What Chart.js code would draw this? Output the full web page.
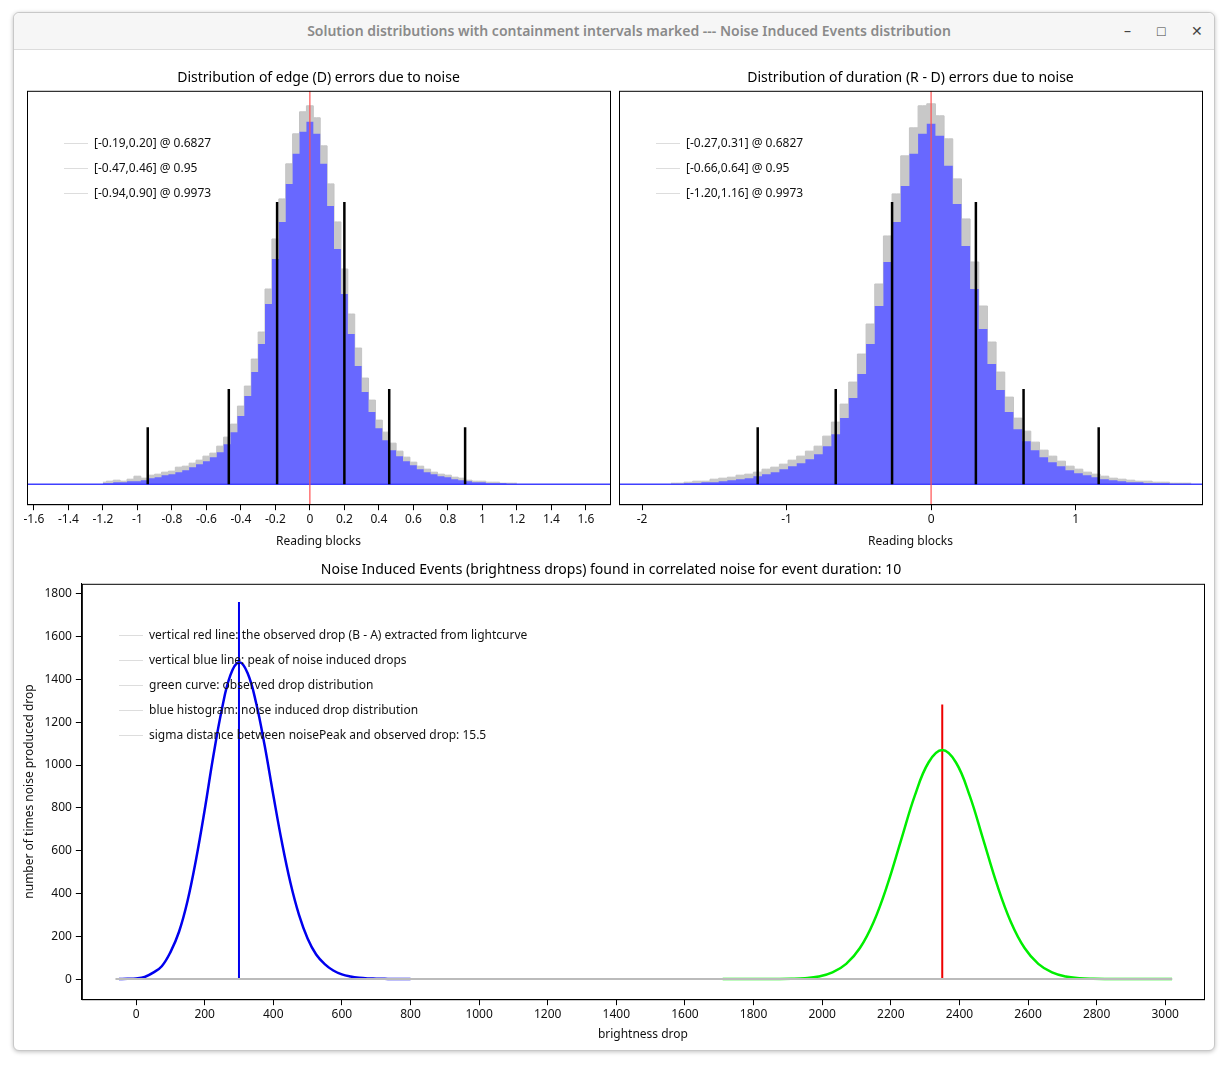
<!DOCTYPE html>
<html>
<head>
<meta charset="utf-8">
<script src="https://cdn.jsdelivr.net/npm/chart.js@4"></script>
<style>
  body { margin:0; background:#ffffff; font-family:"Noto Sans", sans-serif; }
  #win { position:absolute; left:13px; top:12px; width:1200px; height:1037px; background:#fff;
         border:1px solid #c8c8c8; border-radius:6px; box-shadow:0 1px 4px rgba(0,0,0,0.25); }
  #bar { position:absolute; left:0; top:0; width:1200px; height:36px; background:#f6f6f6;
         border-bottom:1px solid #dcdcdc; border-radius:6px 6px 0 0; }
  #bar .t { position:absolute; left:0; width:1230px; top:8px; text-align:center; font-size:14px; color:#8a8a8a; font-weight:600; }
  #bar .b { position:absolute; top:8px; font-size:14px; color:#444; }
  .box { position:absolute; }
  .leg { position:absolute; font-size:12px; color:#111; line-height:25px; }
  .leg span.l { display:inline-block; width:24px; height:1px; background:#ddd; vertical-align:middle; margin-right:6px; }
</style>
</head>
<body>
<div id="win">
  <div id="bar"><div class="t">Solution distributions with containment intervals marked --- Noise Induced Events distribution</div>
    <div class="b" style="left:1110px">&#8211;</div><div class="b" style="left:1143px">&#9633;</div><div class="b" style="left:1177px">&#10005;</div></div>
</div>
<div class="box" style="left:14px;top:60px;width:602px;height:493px"><canvas id="c1"></canvas></div>
<div class="box" style="left:606px;top:60px;width:602px;height:493px"><canvas id="c2"></canvas></div>
<div class="box" style="left:14px;top:552px;width:1194px;height:494px"><canvas id="c3"></canvas></div>
<div class="leg" id="leg1" style="left:64px;top:130px"></div>
<div class="leg" id="leg2" style="left:656px;top:130px"></div>
<div class="leg" id="leg3" style="left:119px;top:622px"></div>
<script>
// ---- top-left: edge (D) errors ----
const edgeX = [-1.20,-1.16,-1.12,-1.08,-1.04,-1.00,-0.96,-0.92,-0.88,-0.84,-0.80,-0.76,-0.72,-0.68,-0.64,-0.60,-0.56,-0.52,-0.48,-0.44,-0.40,-0.36,-0.32,-0.28,-0.24,-0.20,-0.16,-0.12,-0.08,-0.04,0.00,0.04,0.08,0.12,0.16,0.20,0.24,0.28,0.32,0.36,0.40,0.44,0.48,0.52,0.56,0.60,0.64,0.68,0.72,0.76,0.80,0.84,0.88,0.92,0.96,1.00,1.04,1.08,1.12,1.16,1.20];
const edgeBlue = [1,1,2,2,3,3,4,6,7,9,10,12,14,17,20,23,27,32,40,52,68,88,112,140,180,225,262,300,330,352,362,350,320,278,235,190,150,118,92,72,56,44,34,28,23,19,15,12,10,8,7,5,4,3,2,2,1,1,1,0,0];
const edgeGray = [2,3,4,3,5,8,6,9,10,12,13,17,18,21,24,28,31,38,47,60,78,98,125,152,195,245,285,320,350,372,378,366,338,300,262,215,170,136,106,84,64,52,41,33,27,22,18,15,12,10,9,7,6,4,3,3,2,2,1,1,1];
const edgeMarks = [-0.94,-0.47,-0.19,0.20,0.46,0.90];
const edgeTicks = [-1.6,-1.4,-1.2,-1,-0.8,-0.6,-0.4,-0.2,0,0.2,0.4,0.6,0.8,1,1.2,1.4,1.6];
const edgeLegend = ['[-0.19,0.20] @ 0.6827','[-0.47,0.46] @ 0.95','[-0.94,0.90] @ 0.9973'];

// ---- top-right: duration (R - D) errors ----
const durX = [-1.80,-1.74,-1.68,-1.62,-1.56,-1.50,-1.44,-1.38,-1.32,-1.26,-1.20,-1.14,-1.08,-1.02,-0.96,-0.90,-0.84,-0.78,-0.72,-0.66,-0.60,-0.54,-0.48,-0.42,-0.36,-0.30,-0.24,-0.18,-0.12,-0.06,0.00,0.06,0.12,0.18,0.24,0.30,0.36,0.42,0.48,0.54,0.60,0.66,0.72,0.78,0.84,0.90,0.96,1.02,1.08,1.14,1.20,1.26,1.32,1.38,1.44,1.50,1.56,1.62,1.68,1.74,1.80];
const durBlue = [0,0,1,1,2,2,3,4,5,6,8,10,12,15,18,21,25,30,38,50,66,86,110,140,178,222,262,298,330,350,360,348,318,280,238,195,155,120,94,72,55,43,34,27,22,18,14,11,9,7,5,4,3,2,2,1,1,1,0,0,0];
const durGray = [1,1,2,3,3,5,6,7,9,10,12,15,17,20,24,28,33,38,48,62,80,102,130,160,200,248,290,328,356,378,380,368,345,305,265,222,178,142,112,87,66,53,42,34,28,23,18,15,12,10,8,6,5,4,3,3,2,2,1,1,1];
const durMarks = [-1.20,-0.66,-0.27,0.31,0.64,1.16];
const durTicks = [-2,-1,0,1];
const durLegend = ['[-0.27,0.31] @ 0.6827','[-0.66,0.64] @ 0.95','[-1.20,1.16] @ 0.9973'];

// marker heights for 0.9973 / 0.95 / 0.6827 lines (same arbitrary units as histograms)
const markHeights = [57,95,282,282,95,57];

// ---- bottom: noise induced events ----
const noiseX = [-50,-25,0,25,50,75,100,125,150,175,200,225,250,275,300,325,350,375,400,425,450,475,500,525,550,575,600,625,650,675,700,725,750,775,800];
const noiseY = [0,1,3,10,30,60,125,220,365,560,790,1040,1260,1420,1480,1430,1290,1090,860,640,450,300,190,115,70,40,22,12,6,3,2,1,0,0,0];
const obsX = [1710,1750,1790,1830,1870,1910,1950,1990,2030,2070,2110,2150,2190,2230,2270,2310,2350,2390,2430,2470,2510,2550,2590,2630,2670,2710,2750,2790,2830,2870,2910,2950,2990,3020];
const obsY = [0,0,0,0,0,1,4,12,31,71,145,267,440,649,857,1012,1070,1012,857,649,440,267,145,71,31,12,4,1,0,0,0,0,0,0];
const noisePeak = 300, observedDrop = 2350;
const bottomTicks = [0,200,400,600,800,1000,1200,1400,1600,1800,2000,2200,2400,2600,2800,3000];
const bottomYTicks = [0,200,400,600,800,1000,1200,1400,1600,1800];
const bottomLegend = ['vertical red line: the observed drop (B - A) extracted from lightcurve','vertical blue line: peak of noise induced drops','green curve: observed drop distribution','blue histogram: noise induced drop distribution','sigma distance between noisePeak and observed drop: 15.5'];

Chart.defaults.font.family = '"Noto Sans", sans-serif';
Chart.defaults.font.size = 12;
Chart.defaults.color = '#111';
Chart.defaults.animation = false;

const frame = {
  id: 'frame',
  afterDraw(c) {
    const a = c.chartArea, g = c.ctx;
    g.save(); g.strokeStyle = '#000'; g.lineWidth = 1;
    g.strokeRect(a.left + 0.5, a.top + 0.5, a.right - a.left, a.bottom - a.top);
    g.restore();
  }
};

function fillLegend(id, items) {
  document.getElementById(id).innerHTML = items.map(t => '<div><span class="l"></span>' + t + '</div>').join('');
}

function pts(xs, ys) { return xs.map((x, i) => ({x: x, y: ys[i]})); }

const plain = v => String(v);

function histo(id, title, xs, blue, gray, marks, ticks, xmin, xmax) {
  const ds = [
    {data: pts(xs, gray), borderColor: '#c4c4c4', backgroundColor: '#c8c8c8', borderWidth: 1, stepped: 'middle', pointRadius: 0, fill: 'origin', order: 3},
    {data: pts(xs, blue), borderColor: 'rgba(100,100,255,1)', backgroundColor: 'rgba(104,104,255,1)', borderWidth: 0, stepped: 'middle', pointRadius: 0, fill: 'origin', order: 2},
    {data: [{x: xmin, y: 0}, {x: xmax, y: 0}], borderColor: '#4040ff', borderWidth: 1.5, pointRadius: 0, order: 1}
  ];
  marks.forEach((m, i) => ds.push({data: [{x: m, y: 0}, {x: m, y: markHeights[i]}], borderColor: '#000', borderWidth: 2.5, pointRadius: 0, order: 0}));
  ds.push({data: [{x: 0, y: -20}, {x: 0, y: 393}], borderColor: '#ff5050', borderWidth: 1.2, pointRadius: 0, order: 0});
  new Chart(document.getElementById(id), {
    type: 'line',
    data: {datasets: ds},
    options: {
      responsive: true, maintainAspectRatio: false,
      layout: {padding: {left: 13, right: 6, top: 0}},
      plugins: {legend: {display: false}, tooltip: {enabled: false},
        title: {display: true, text: title, font: {size: 14, weight: 'normal'}, color: '#000', padding: {top: 10, bottom: 4}}},
      scales: {
        x: {type: 'linear', min: xmin, max: xmax,
          afterBuildTicks: s => { s.ticks = ticks.map(v => ({value: v})); },
          grid: {drawOnChartArea: false, tickLength: 6, color: '#000'}, border: {color: '#000'},
          ticks: {maxRotation: 0, autoSkip: false, padding: 2, callback: plain},
          title: {display: true, text: 'Reading blocks', padding: {top: 6}}},
        y: {display: false, min: -20, max: 393}
      }
    },
    plugins: [frame]
  });
}

histo('c1', 'Distribution of edge (D) errors due to noise', edgeX, edgeBlue, edgeGray, edgeMarks, edgeTicks, -1.64, 1.74);
histo('c2', 'Distribution of duration (R - D) errors due to noise', durX, durBlue, durGray, durMarks, durTicks, -2.16, 1.875);
fillLegend('leg1', edgeLegend);
fillLegend('leg2', durLegend);

new Chart(document.getElementById('c3'), {
  type: 'line',
  data: {datasets: [
    {data: [{x: -60, y: 0}, {x: 3020, y: 0}], borderColor: '#bbbbbb', borderWidth: 2, pointRadius: 0},
    {data: pts(noiseX, noiseY), borderColor: '#0000ee', borderWidth: 2.5, pointRadius: 0, tension: 0.4},
    {data: pts(obsX, obsY), borderColor: '#00ee00', borderWidth: 2.5, pointRadius: 0, tension: 0.4},
    {data: [{x: noisePeak, y: 0}, {x: noisePeak, y: 1762}], borderColor: '#0000ee', borderWidth: 2, pointRadius: 0},
    {data: [{x: observedDrop, y: 0}, {x: observedDrop, y: 1283}], borderColor: '#ee0000', borderWidth: 2, pointRadius: 0}
  ]},
  options: {
    responsive: true, maintainAspectRatio: false,
    layout: {padding: {left: 4, right: 4}},
    plugins: {legend: {display: false}, tooltip: {enabled: false},
      title: {display: true, text: 'Noise Induced Events (brightness drops) found in correlated noise for event duration: 10', font: {size: 14, weight: 'normal'}, color: '#000', padding: {top: 10, bottom: 5}}},
    scales: {
      x: {type: 'linear', min: -158, max: 3113,
        afterBuildTicks: s => { s.ticks = bottomTicks.map(v => ({value: v})); },
        grid: {drawOnChartArea: false, tickLength: 6, color: '#000'}, border: {color: '#000'},
        ticks: {maxRotation: 0, autoSkip: false, padding: 2, callback: plain},
        title: {display: true, text: 'brightness drop', padding: {top: 4}}},
      y: {min: -94, max: 1847,
        afterBuildTicks: s => { s.ticks = bottomYTicks.map(v => ({value: v})); },
        grid: {drawOnChartArea: false, tickLength: 6, color: '#000'}, border: {color: '#000'},
        ticks: {autoSkip: false, padding: 4, callback: plain},
        title: {display: true, text: 'number of times noise produced drop'}}
    }
  },
  plugins: [frame]
});
fillLegend('leg3', bottomLegend);
</script>
</body>
</html>
